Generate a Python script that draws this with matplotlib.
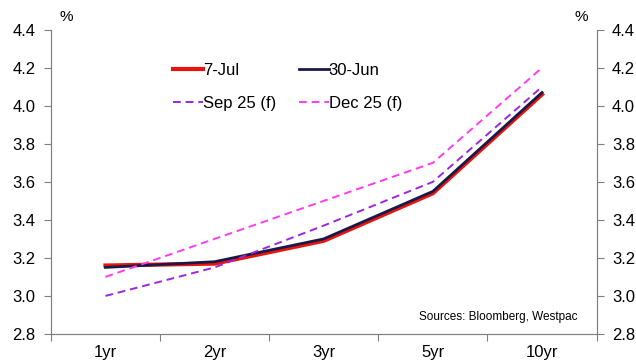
import matplotlib.pyplot as plt
from matplotlib.ticker import FixedLocator, NullFormatter, FixedFormatter

plt.rcParams['font.family'] = ['Liberation Sans', 'DejaVu Sans']

tenors = ['1yr', '2yr', '3yr', '5yr', '10yr']
jul_7 = [3.16, 3.17, 3.29, 3.54, 4.06]
jun_30 = [3.15, 3.18, 3.30, 3.55, 4.07]
sep_25_f = [3.00, 3.15, 3.37, 3.60, 4.10]
dec_25_f = [3.10, 3.30, 3.50, 3.70, 4.20]
yticks = [2.8, 3.0, 3.2, 3.4, 3.6, 3.8, 4.0, 4.2, 4.4]

fig = plt.figure(figsize=(6.36, 3.63), dpi=100)
ax = fig.add_axes([0.080, 0.080, 0.858, 0.838])
xs = list(range(len(tenors)))

l1, = ax.plot(xs, jul_7, color='#e8150e', lw=3.0, label='7-Jul')
l2, = ax.plot(xs, jun_30, color='#1c1848', lw=2.0, label='30-Jun')
l3, = ax.plot(xs, sep_25_f, color='#9b27e0', lw=1.4, ls=(0, (4, 2.5)), label='Sep 25 (f)')
l4, = ax.plot(xs, dec_25_f, color='#ff3cf0', lw=1.4, ls=(0, (4, 2.5)), label='Dec 25 (f)')

ax.set_xlim(-0.5, len(tenors) - 0.5)
ax.set_ylim(2.8, 4.4)
ax.set_yticks(yticks)
ax.set_yticklabels([f'{v:.1f}' for v in yticks])

# category labels between boundary ticks
ax.xaxis.set_major_locator(FixedLocator([i - 0.5 for i in range(len(tenors) + 1)]))
ax.xaxis.set_major_formatter(NullFormatter())
ax.xaxis.set_minor_locator(FixedLocator(xs))
ax.xaxis.set_minor_formatter(FixedFormatter(tenors))
ax.tick_params(axis='x', which='minor', length=0, pad=8, labelsize=12)
ax.tick_params(axis='x', which='major', length=5, color='#808080')
ax.tick_params(axis='y', length=5, color='#808080', labelsize=12, pad=6)

ax2 = ax.twinx()
ax2.set_ylim(2.8, 4.4)
ax2.set_yticks(yticks)
ax2.set_yticklabels([f'{v:.1f}' for v in yticks])
ax2.tick_params(axis='y', length=5, color='#808080', labelsize=12, pad=6)

for a in (ax, ax2):
    a.spines['top'].set_visible(False)
    for s in ('left', 'right', 'bottom'):
        a.spines[s].set_color('#808080')

ax.text(0.015, 1.02, '%', transform=ax.transAxes, fontsize=11, ha='left', va='bottom')
ax.text(0.985, 1.02, '%', transform=ax.transAxes, fontsize=11, ha='right', va='bottom')
ax.text(0.965, 0.055, 'Sources: Bloomberg, Westpac', transform=ax.transAxes,
        fontsize=8.5, ha='right', va='center')

# row-wise order: ncol fills by column
ax.legend([l1, l3, l2, l4], ['7-Jul', 'Sep 25 (f)', '30-Jun', 'Dec 25 (f)'],
          loc='upper left', bbox_to_anchor=(0.196, 0.94), ncol=2, frameon=False,
          fontsize=12, handlelength=1.8, handletextpad=0.0, columnspacing=1.35,
          labelspacing=1.05)

fig.savefig('out.png', dpi=100)
